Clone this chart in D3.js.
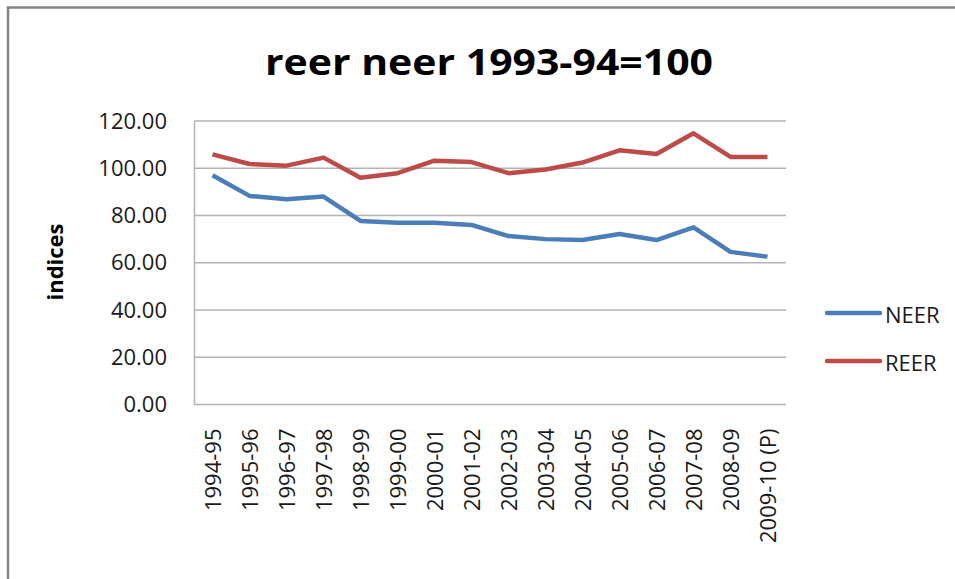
<!DOCTYPE html>
<html>
<head>
<meta charset="utf-8">
<script src="https://cdn.jsdelivr.net/npm/d3@7"></script>
<style>
    body { margin: 0; background: #ffffff; }
    svg { display: block; }
    text { font-family: 'Open Sans', sans-serif; fill: #1a1a1a; }
</style>
</head>
<body>
<script>
// 数据
const years = ['1994-95', '1995-96', '1996-97', '1997-98', '1998-99', '1999-00', '2000-01', '2001-02',
    '2002-03', '2003-04', '2004-05', '2005-06', '2006-07', '2007-08', '2008-09', '2009-10 (P)'];
const neer = [97.0, 88.3, 86.9, 88.0, 77.7, 76.9, 76.9, 76.0, 71.3, 70.0, 69.6, 72.2, 69.6, 75.0, 64.6, 62.6];
const reer = [105.9, 101.8, 101.1, 104.5, 96.0, 97.9, 103.2, 102.6, 97.9, 99.5, 102.4, 107.6, 106.0, 114.8, 104.8, 104.8];
const yTicks = [0, 20, 40, 60, 80, 100, 120];
const seriesList = [
    {name: 'NEER', values: neer, color: '#4a7ebb'},
    {name: 'REER', values: reer, color: '#be4b48'}
];

const width = 955, height = 579;
const plot = {left: 194, right: 786, top: 121, bottom: 404.5};

const svg = d3.select('body')
    .append('svg')
    .attr('width', width)
    .attr('height', height);

// 外框（只露出上边和左边）
svg.append('path')
    .attr('d', `M 8 ${height} L 8 7.5 L ${width} 7.5`)
    .attr('fill', 'none')
    .attr('stroke', '#858585')
    .attr('stroke-width', 2.5);

// 标题
svg.append('text')
    .attr('x', 489)
    .attr('y', 75)
    .attr('text-anchor', 'middle')
    .attr('textLength', 448)
    .attr('lengthAdjust', 'spacingAndGlyphs')
    .style('font-size', '35px')
    .style('font-weight', 'bold')
    .style('fill', '#000')
    .text('reer neer 1993-94=100');

// 比例尺
const x = d3.scaleBand()
    .domain(years)
    .range([plot.left, plot.right]);
const y = d3.scaleLinear()
    .domain([0, 120])
    .range([plot.bottom, plot.top]);

// 网格线
svg.append('g')
    .selectAll('line')
    .data(yTicks)
    .enter()
    .append('line')
    .attr('x1', plot.left)
    .attr('x2', plot.right)
    .attr('y1', d => y(d))
    .attr('y2', d => y(d))
    .attr('stroke', '#b3b3b3')
    .attr('stroke-width', 1.5);

// y 轴
const yAxis = svg.append('g')
    .attr('transform', `translate(${plot.left},0)`)
    .call(d3.axisLeft(y).tickValues(yTicks).tickFormat(d3.format('.2f')).tickSize(0).tickPadding(27));
yAxis.select('.domain').attr('stroke', '#b3b3b3').attr('stroke-width', 1.5);
yAxis.selectAll('text').style('font-size', '22px').attr('fill', '#1a1a1a');

// x 轴标签
const xAxis = svg.append('g')
    .attr('transform', `translate(0,${plot.bottom})`)
    .call(d3.axisBottom(x).tickSize(0));
xAxis.select('.domain').remove();
xAxis.selectAll('text')
    .style('font-size', '22px')
    .attr('fill', '#1a1a1a')
    .attr('text-anchor', 'end')
    .attr('y', 0)
    .attr('dy', '0.35em')
    .attr('transform', 'translate(1,24) rotate(-90)');

// y 轴标题
svg.append('text')
    .attr('transform', 'translate(63,262) rotate(-90)')
    .attr('text-anchor', 'middle')
    .style('font-size', '22px')
    .style('font-weight', 'bold')
    .style('fill', '#000')
    .text('indices');

// 折线
const line = d3.line()
    .x((d, i) => x(years[i]) + x.bandwidth() / 2)
    .y(d => y(d));
svg.append('g')
    .selectAll('path')
    .data(seriesList)
    .enter()
    .append('path')
    .attr('d', d => line(d.values))
    .attr('fill', 'none')
    .attr('stroke', d => d.color)
    .attr('stroke-width', 4.5)
    .attr('stroke-linejoin', 'round');

// 图例
const legend = svg.append('g')
    .selectAll('g')
    .data(seriesList)
    .enter()
    .append('g')
    .attr('transform', (d, i) => `translate(827,${313 + i * 48})`);
legend.append('line')
    .attr('x1', 0)
    .attr('x2', 53)
    .attr('stroke', d => d.color)
    .attr('stroke-width', 4.5)
    .attr('stroke-linecap', 'round');
legend.append('text')
    .attr('x', 58)
    .attr('y', 10)
    .style('font-size', '22px')
    .text(d => d.name);
</script>
</body>
</html>
